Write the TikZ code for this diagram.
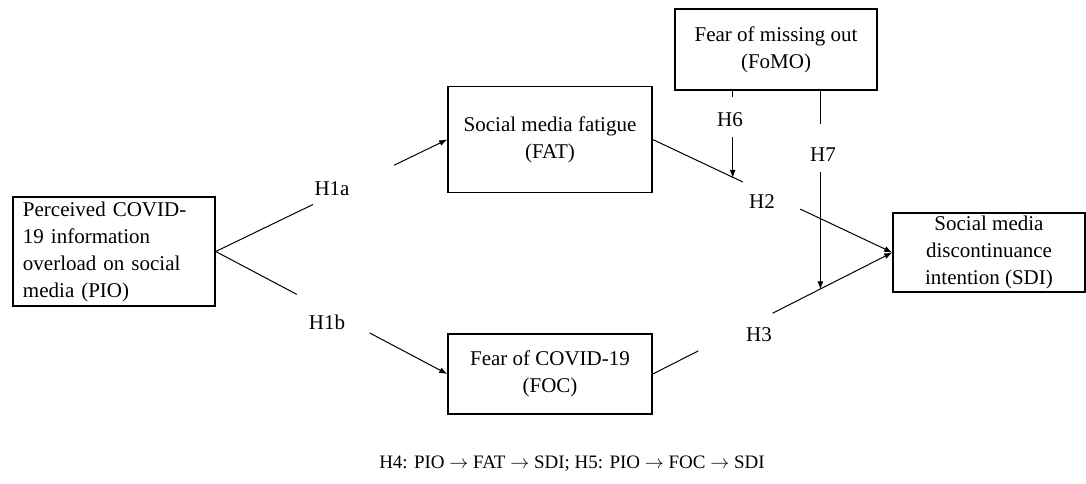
\documentclass[tikz,border=0pt]{standalone}
\usepackage{fix-cm}
\usepackage{fontspec}
\setmainfont{Liberation Serif}
\usetikzlibrary{arrows.meta,calc}
\begin{document}
\begin{tikzpicture}[x=1pt,y=-1pt,
  box/.style={draw, line width=1.5pt, inner sep=0pt, align=center, font=\fontsize{21}{27}\selectfont},
  conn/.style={line width=1pt},
  arr/.style={conn, -{Latex[length=8pt,width=6pt]}},
  hlab/.style={font=\fontsize{21}{27}\selectfont, inner sep=0pt}]
\useasboundingbox (0,0) rectangle (1086,483);
% boxes
\node[box, minimum width=202pt, minimum height=109pt, align=left, text width=182pt] (pio) at (114,251.5)
  {Perceived COVID-\\19 information\\overload on social\\media (PIO)};
\node[box, minimum width=204pt, minimum height=106pt] (fat) at (550,139.5) {Social media fatigue\\(FAT)};
\node[box, minimum width=202pt, minimum height=81pt] (fomo) at (776,49.5) {Fear of missing out\\(FoMO)};
\node[box, minimum width=192pt, minimum height=79pt] (sdi) at (989,252.5) {Social media\\discontinuance\\intention (SDI)};
\node[box, minimum width=204pt, minimum height=80pt] (foc) at (550,374) {Fear of COVID-19\\(FOC)};
% labels
\node[hlab] (h1a) at (332,189) {H1a};
\node[hlab] (h1b) at (327,322) {H1b};
\node[hlab] (h2) at (762,202) {H2};
\node[hlab] (h3) at (759,335) {H3};
\node[hlab] (h6) at (730,120) {H6};
\node[hlab] (h7) at (823,155) {H7};
% PIO -> FAT
\draw[conn] (pio.east) -- ($(pio.east)!0.42!(fat.west)$);
\draw[arr] ($(pio.east)!0.77!(fat.west)$) -- (fat.west);
% PIO -> FOC
\draw[conn] (pio.east) -- ($(pio.east)!0.35!(foc.west)$);
\draw[arr] ($(pio.east)!0.665!(foc.west)$) -- (foc.west);
% FAT -> SDI
\draw[conn] (fat.east) -- ($(fat.east)!0.376!(sdi.west)$);
\draw[arr] ($(fat.east)!0.616!(sdi.west)$) -- (sdi.west);
% FOC -> SDI
\draw[conn] (foc.east) -- ($(foc.east)!0.19!(sdi.west)$);
\draw[arr] ($(foc.east)!0.50!(sdi.west)$) -- (sdi.west);
% moderation H6
\coordinate (m6) at ($(fat.east)!0.339!(sdi.west)$);
\coordinate (f6) at ($(fomo.south west)!0.287!(fomo.south east)$);
\draw[conn] (f6) -- (f6 |- 0,97);
\draw[arr] (f6 |- 0,137) -- (f6 |- m6);
% moderation H7
\coordinate (m7) at ($(foc.east)!0.697!(sdi.west)$);
\coordinate (f7) at ($(fomo.south west)!0.718!(fomo.south east)$);
\draw[conn] (f7) -- (f7 |- 0,124);
\draw[arr] (f7 |- 0,172) -- (f7 |- m7);
% note
\node[font=\fontsize{19}{23}\selectfont, inner sep=0pt] (note) at (572,464)
  {H4: PIO $\rightarrow$ FAT $\rightarrow$ SDI; H5: PIO $\rightarrow$ FOC $\rightarrow$ SDI};
\end{tikzpicture}
\end{document}
